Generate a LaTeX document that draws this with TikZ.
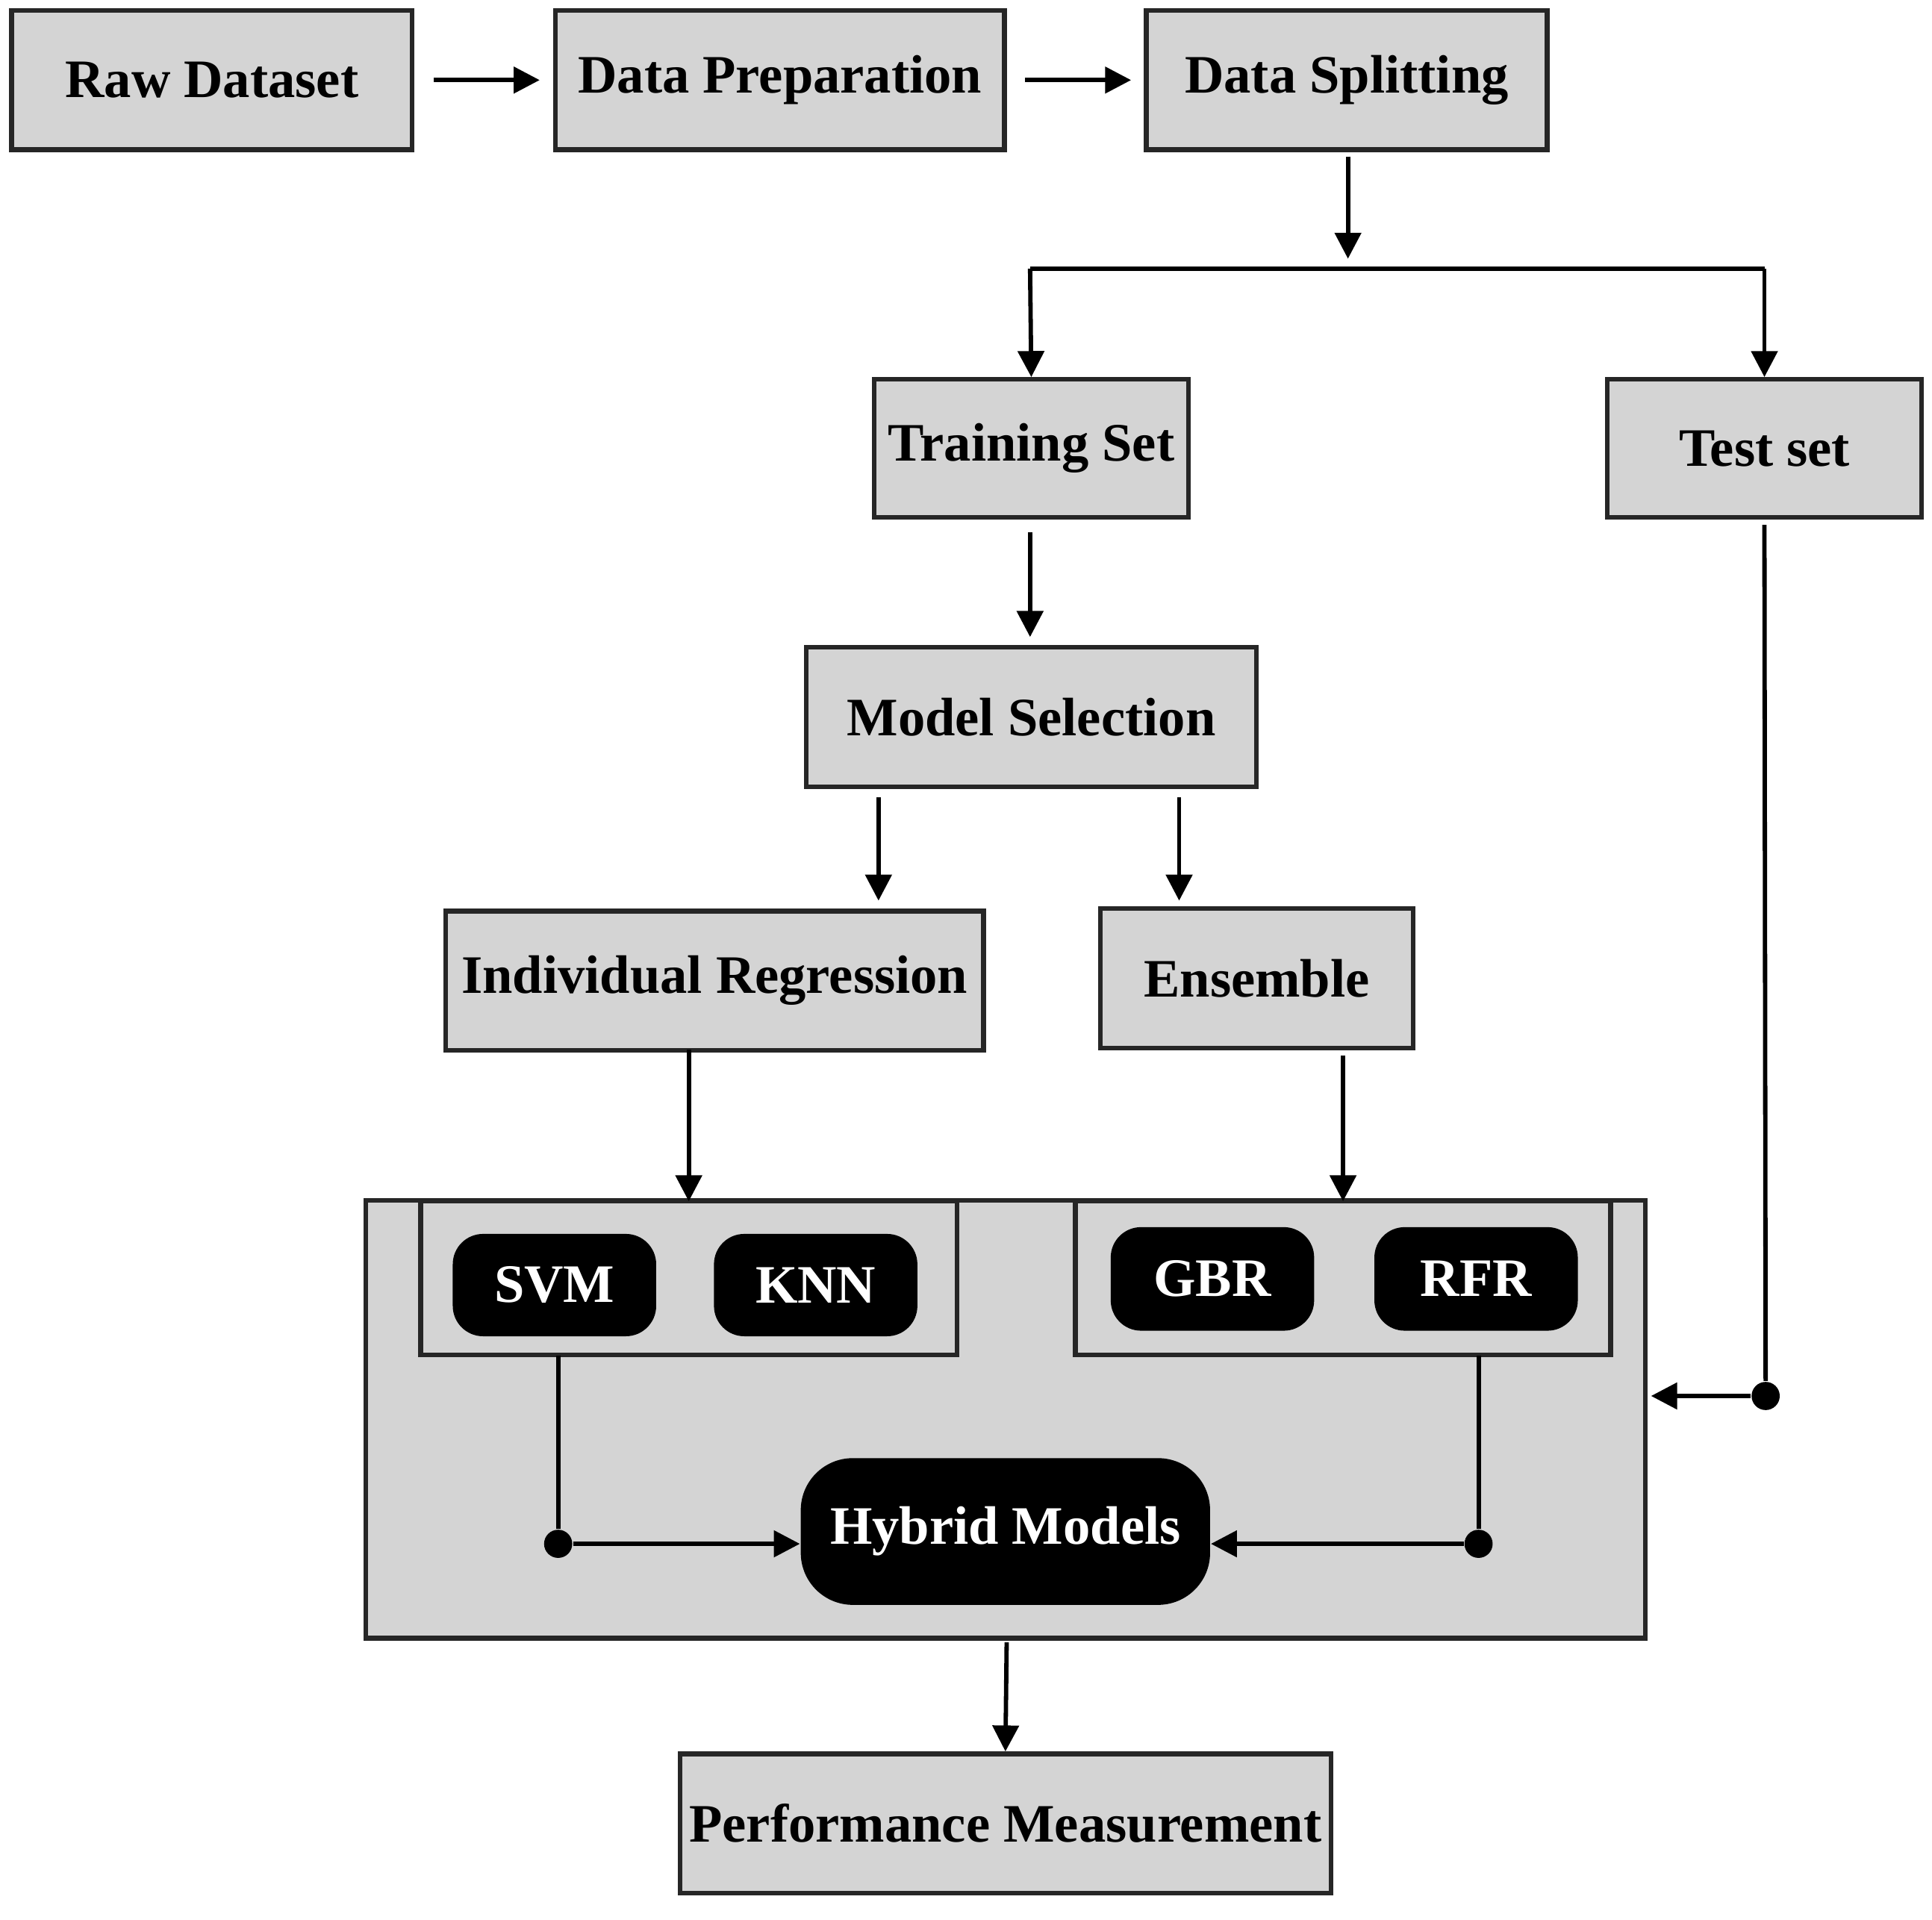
\documentclass[tikz,border=0pt]{standalone}
\usepackage{fontspec}
\setmainfont{Liberation Serif}
\usetikzlibrary{arrows.meta}
\begin{document}
\begin{tikzpicture}[x=0.01cm,y=-0.01cm,
 box/.style={draw=black!85,line width=1.1pt,fill=black!17,inner sep=0pt,font=\fontsize{12.5}{14}\selectfont\bfseries},
 blk/.style={fill=black,rounded corners=7pt,text=white,inner sep=0pt,font=\fontsize{12.5}{14}\selectfont\bfseries},
 arr/.style={line width=1pt,-{Triangle[length=6pt,width=6pt]}},
 ln/.style={line width=1pt},
 dot/.style={circle,fill=black,inner sep=0pt,minimum size=6.5pt}]
\useasboundingbox (0,0) rectangle (1568,1558);
\node[box,minimum width=3.25cm,minimum height=1.13cm] (raw) at (172,65) {Raw Dataset};
\node[box,minimum width=3.64cm,minimum height=1.13cm] (prep) at (633,65) {Data Preparation};
\node[box,minimum width=3.25cm,minimum height=1.13cm] (split) at (1093,65) {Data Splitting};
\node[box,minimum width=2.55cm,minimum height=1.12cm] (train) at (837,364) {Training Set};
\node[box,minimum width=2.55cm,minimum height=1.12cm] (test) at (1432,364) {Test set};
\node[box,minimum width=3.65cm,minimum height=1.13cm] (msel) at (837,582) {Model Selection};
\node[box,minimum width=4.36cm,minimum height=1.13cm] (ind) at (580,796) {Individual Regression};
\node[box,minimum width=2.54cm,minimum height=1.13cm] (ens) at (1020,794) {Ensemble};
\node[box,minimum width=10.38cm,minimum height=3.55cm] (big) at (816,1152) {};
\node[box,minimum width=4.35cm,minimum height=1.25cm] (g1) at (559,1037) {};
\node[box,minimum width=4.34cm,minimum height=1.25cm] (g2) at (1090,1037) {};
\node[blk,minimum width=1.65cm,minimum height=0.83cm] (svm) at (450,1043) {SVM};
\node[blk,minimum width=1.65cm,minimum height=0.83cm] (knn) at (662,1043) {KNN};
\node[blk,minimum width=1.65cm,minimum height=0.84cm] (gbr) at (984,1038) {GBR};
\node[blk,minimum width=1.65cm,minimum height=0.84cm] (rfr) at (1198,1038) {RFR};
\node[blk,rounded corners=12pt,minimum width=3.32cm,minimum height=1.19cm] (hyb) at (816,1243) {Hybrid Models};
\node[box,minimum width=5.28cm,minimum height=1.13cm] (perf) at (816,1480) {Performance Measurement};
\coordinate (r1) at (352,65); \coordinate (r2) at (438,65);
\draw[arr] (r1) -- (r2);
\coordinate (p1) at (832,65); \coordinate (p2) at (918,65);
\draw[arr] (p1) -- (p2);
\coordinate (s1) at (1094,127); \coordinate (s2) at (1094,210);
\draw[arr] (s1) -- (s2);
\coordinate (bl) at (836,218); \coordinate (br) at (1432,218);
\draw[ln] (bl) -- (br);
\draw[arr] (bl) -- (train.north);
\draw[arr] (br) -- (test.north);
\coordinate (t1) at (836,432); \coordinate (t2) at (836,517);
\draw[arr] (t1) -- (t2);
\coordinate (m1) at (713,647); \coordinate (m2) at (713,731);
\draw[arr] (m1) -- (m2);
\coordinate (m3) at (957,647); \coordinate (m4) at (957,731);
\draw[arr] (m3) -- (m4);
\coordinate (i1) at (559,852); \coordinate (i2) at (559,975);
\draw[arr] (i1) -- (i2);
\coordinate (e1) at (1090,857); \coordinate (e2) at (1090,975);
\draw[arr] (e1) -- (e2);
\node[dot] (d1) at (453,1253) {};
\node[dot] (d2) at (1200,1253) {};
\node[dot] (d3) at (1433,1133) {};
\draw[ln] (453,1100) -- (d1);
\draw[arr] (d1) -- (hyb.west|-d1);
\draw[ln] (1200,1100) -- (d2);
\draw[arr] (d2) -- (hyb.east|-d2);
\draw[ln] (test.south) ++(0,4) -- (d3);
\coordinate (tl) at (1340,1133);
\draw[arr] (d3) -- (tl);
\coordinate (h1) at (817,1333);
\draw[arr] (h1) -- (perf.north);
\end{tikzpicture}
\end{document}
